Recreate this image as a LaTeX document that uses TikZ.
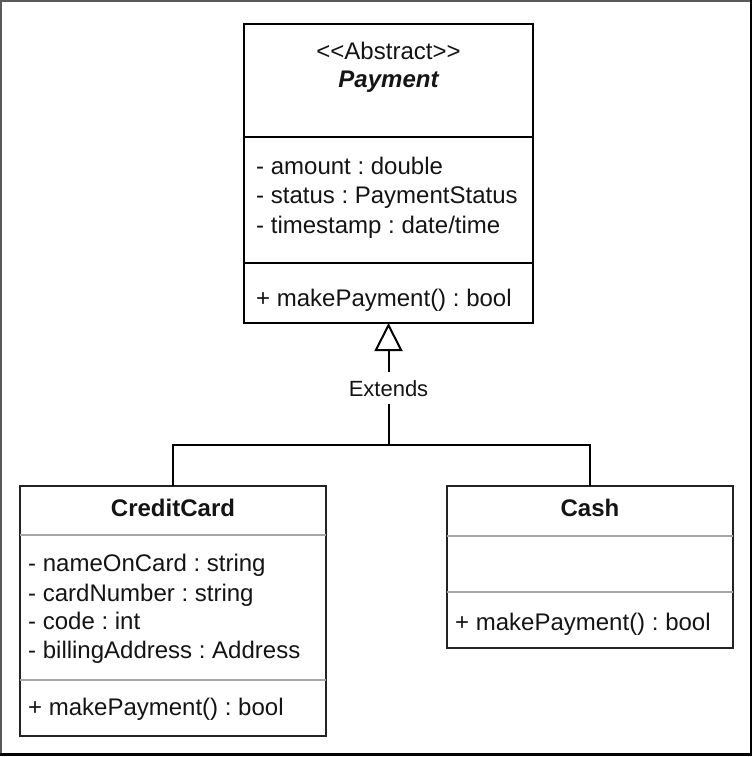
\documentclass[tikz,border=0pt]{standalone}
\usepackage{fontspec}
\setmainfont{Liberation Sans}
\usetikzlibrary{arrows.meta}
\definecolor{txtc}{HTML}{141414}
\definecolor{divgray}{HTML}{A6A6A6}
\definecolor{framegray}{HTML}{5A5A5A}
\definecolor{boxdark}{HTML}{222222}
\frenchspacing
\begin{document}
\begin{tikzpicture}[x=1pt,y=-1pt,
  umlbox/.style={draw=black, line width=2pt, anchor=north west, inner sep=0pt, outer sep=0pt},
  subbox/.style={umlbox, draw=boxdark},
  divline/.style={line width=2pt, black},
  subdiv/.style={line width=1.6pt, divgray},
  member/.style={anchor=base west, inner sep=0pt, text=txtc, font=\fontsize{24}{30}\selectfont},
  title/.style={anchor=base, inner sep=0pt, text=txtc, font=\fontsize{24}{30}\selectfont},
  conn/.style={line width=2pt, black},
  lbl/.style={fill=white, inner sep=0pt, text height=16pt, text depth=0pt, inner ysep=8pt, inner xsep=2pt, text=txtc, font=\fontsize{22}{26}\selectfont}
]
\useasboundingbox (0,0) rectangle (752,757);
% outer frame
\draw[framegray, line width=2pt] (0,1) -- (751,1);
\draw[framegray, line width=2pt] (1,0) -- (1,756);
\draw[black, line width=2pt] (750.5,0) -- (750.5,756);
\draw[black, line width=3pt] (0,754.5) -- (752,754.5);

% Payment
\node[umlbox, minimum width=289pt, minimum height=299pt] (pay) at (244,24) {};
\draw[divline] (pay.west |- 0,137) -- (pay.east |- 0,137);
\draw[divline] (pay.west |- 0,263) -- (pay.east |- 0,263);
\node[title] (payst) at (388.5,60) {<{}<Abstract>{}>};
\node[title, font=\fontsize{24}{30}\selectfont\bfseries\itshape] (payname) at (388.5,88) {Payment};
\node[member] (pa1) at (256,174) {- amount : double};
\node[member] (pa2) at (256,203) {- status : PaymentStatus};
\node[member] (pa3) at (256,233) {- timestamp : date/time};
\node[member] (pm1) at (256,306) {+ makePayment() : bool};

% CreditCard
\node[subbox, minimum width=306pt, minimum height=250pt] (cc) at (20,486) {};
\draw[subdiv] (cc.west |- 0,535) -- (cc.east |- 0,535);
\draw[subdiv] (cc.west |- 0,680) -- (cc.east |- 0,680);
\node[title, font=\fontsize{24}{30}\selectfont\bfseries] (ccname) at (173,516) {CreditCard};
\node[member] (ca1) at (28,571) {- nameOnCard : string};
\node[member] (ca2) at (28,601) {- cardNumber : string};
\node[member] (ca3) at (28,629) {- code : int};
\node[member] (ca4) at (28,658) {- billingAddress : Address};
\node[member] (cm1) at (28,715) {+ makePayment() : bool};

% Cash
\node[subbox, minimum width=286pt, minimum height=162pt] (cash) at (447,486) {};
\draw[subdiv] (cash.west |- 0,536) -- (cash.east |- 0,536);
\draw[subdiv] (cash.west |- 0,592) -- (cash.east |- 0,592);
\node[title, font=\fontsize{24}{30}\selectfont\bfseries] (cashname) at (590,516) {Cash};
\node[member] (km1) at (455,630) {+ makePayment() : bool};

% generalization
\coordinate (jn) at (388.5,445);
\draw[conn] (cc.north) |- (jn) -| (cash.north);
\draw[conn, -{Triangle[open, length=28pt, width=28pt, line width=2pt]}] (jn) -- node[lbl, pos=0.467] (ext) {Extends} (pay.south);
\end{tikzpicture}
\end{document}
